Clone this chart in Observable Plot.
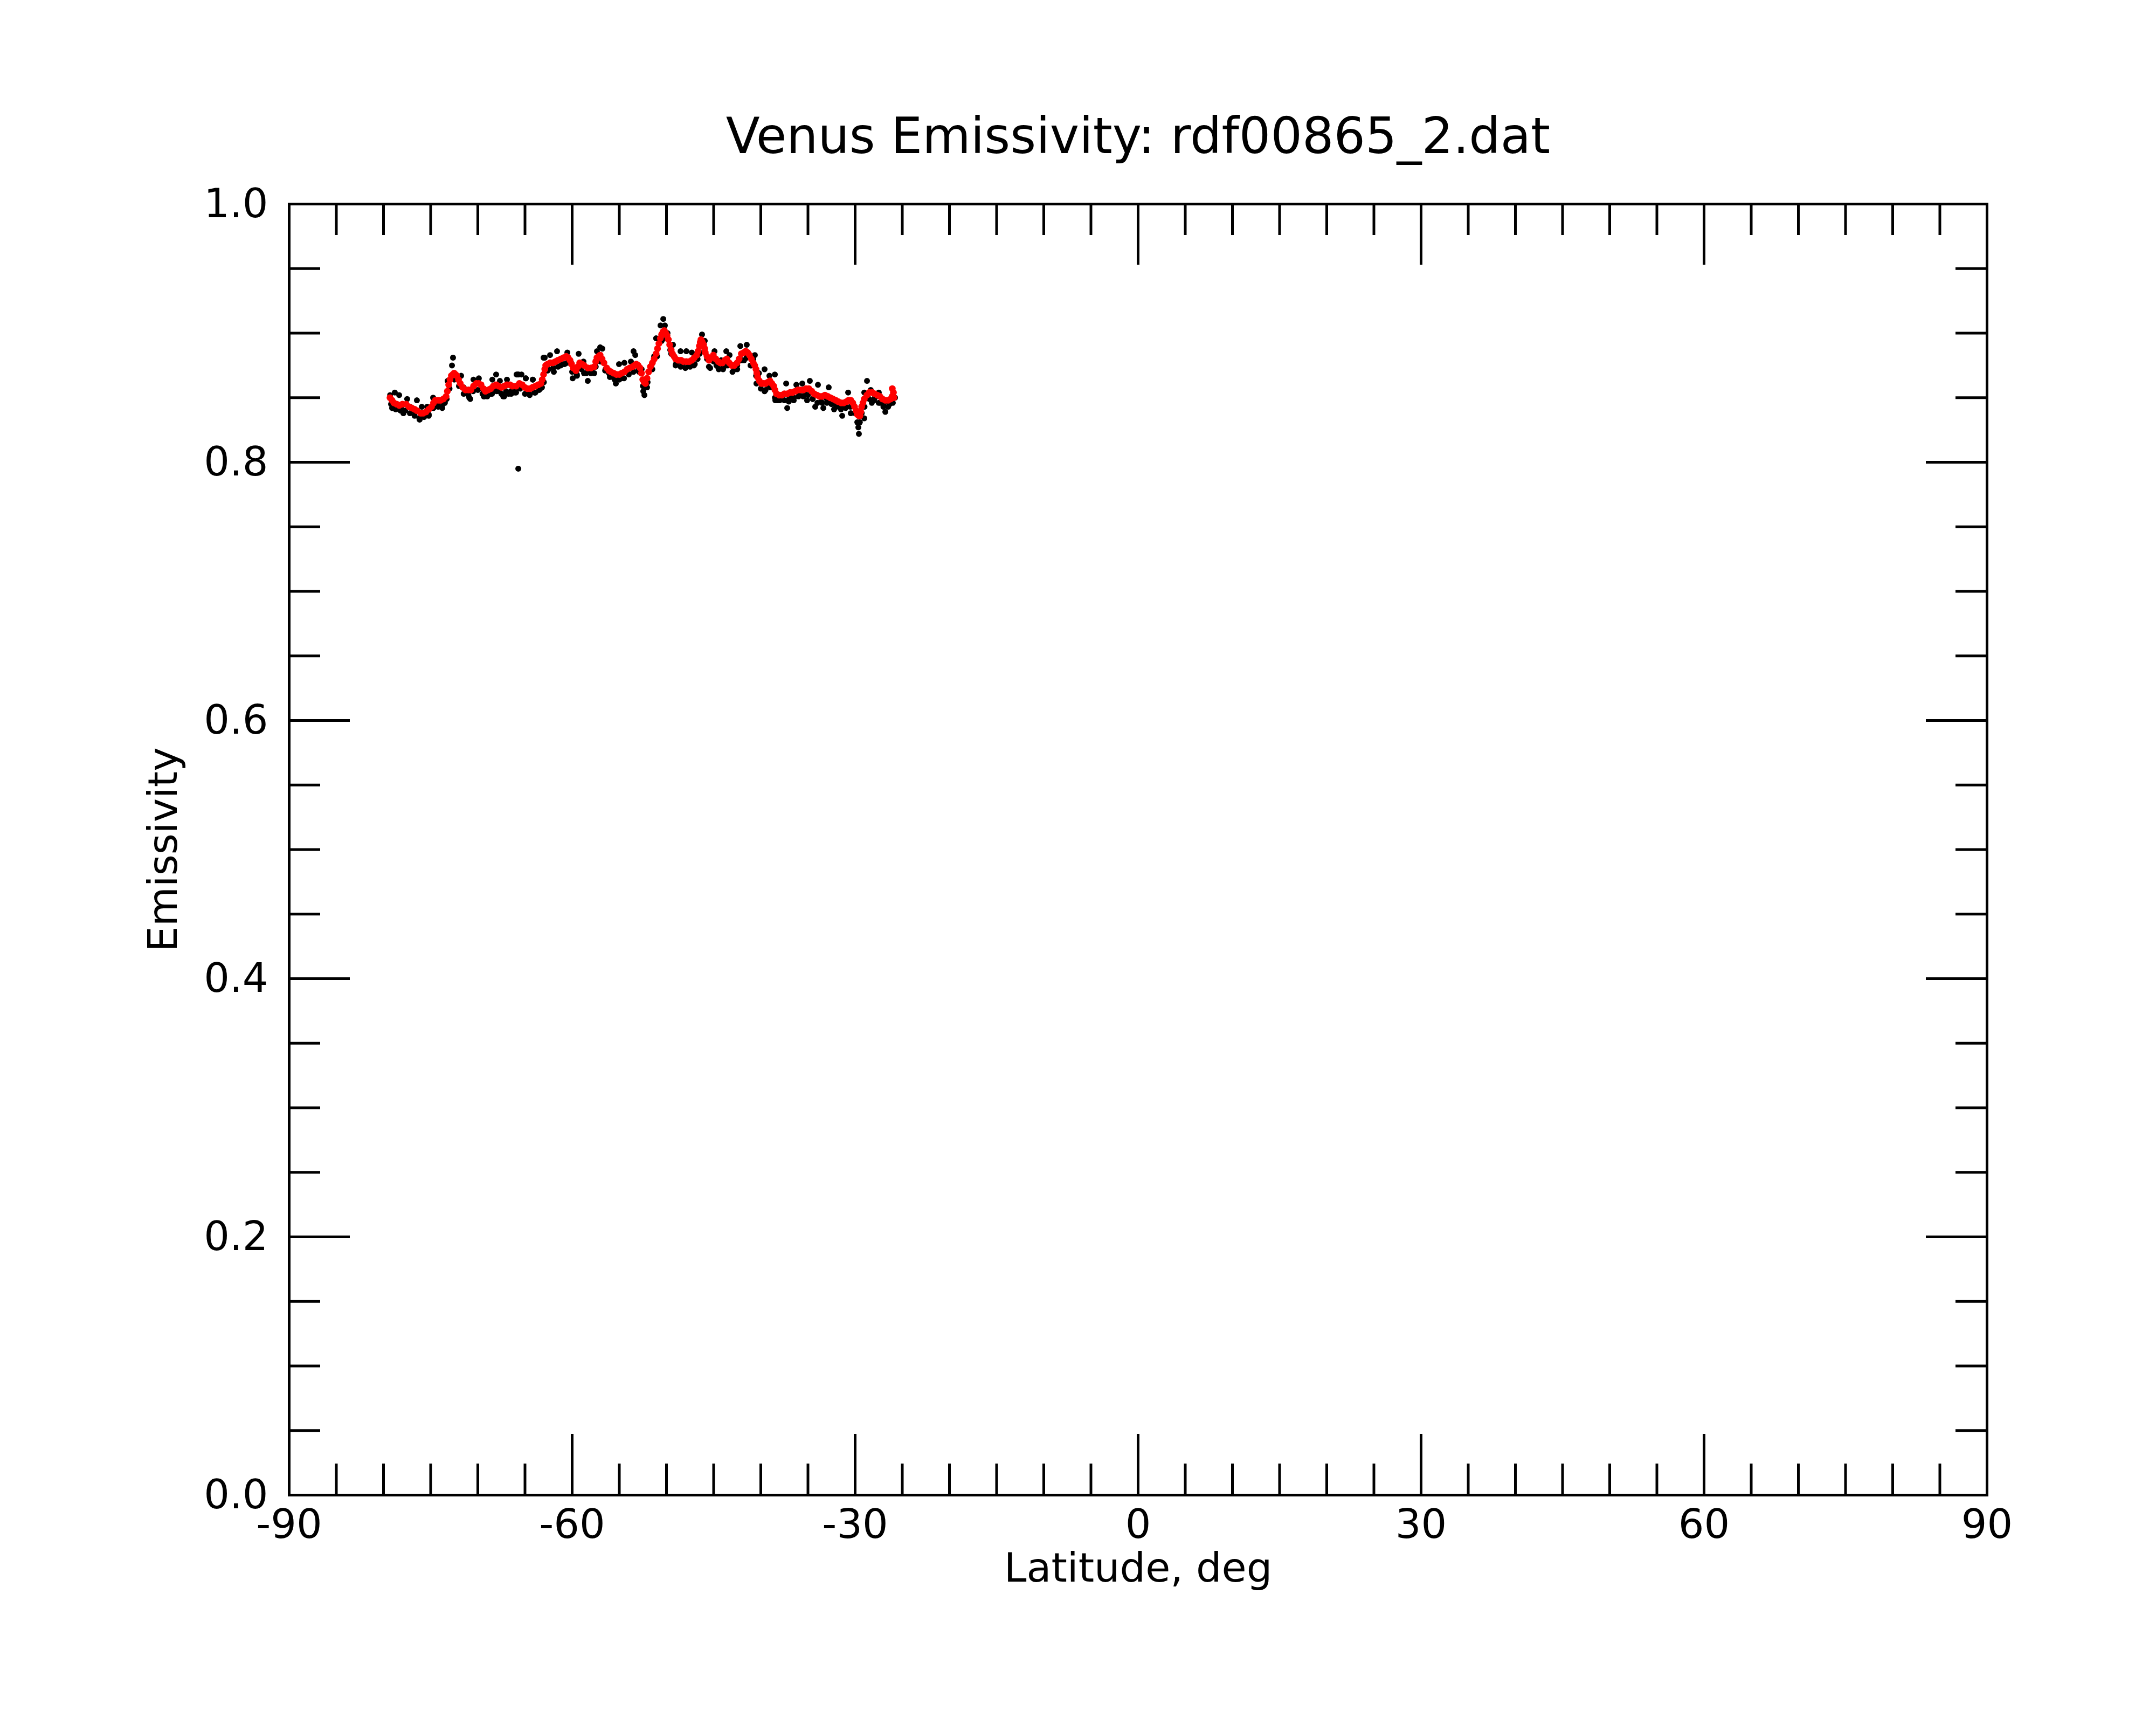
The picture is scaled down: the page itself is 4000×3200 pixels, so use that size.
<!DOCTYPE html>
<html>
<head>
<meta charset="utf-8">
<script src="https://cdn.jsdelivr.net/npm/d3@7"></script>
<script src="https://cdn.jsdelivr.net/npm/@observablehq/plot@0.6"></script>
<style>
  html, body { margin: 0; padding: 0; background: white; }
  svg { display: block; }
</style>
</head>
<body>
<div id="chart"></div>
<script>
const titleText = "Venus Emissivity: rdf00865_2.dat";
const xLabel = "Latitude, deg";
const yLabel = "Emissivity";

const majorX = [-90, -60, -30, 0, 30, 60, 90];
const minorX = [-85, -80, -75, -70, -65, -55, -50, -45, -40, -35, -25, -20, -15, -10, -5,
                5, 10, 15, 20, 25, 35, 40, 45, 50, 55, 65, 70, 75, 80, 85];
const majorY = [0, 0.2, 0.4, 0.6, 0.8, 1.0];
const minorY = [0.05, 0.1, 0.15, 0.25, 0.3, 0.35, 0.45, 0.5, 0.55, 0.65, 0.7, 0.75, 0.85, 0.9, 0.95];

// Raw measurements (black dots), scattered points
const rawLat = [
  -79.3, -79.09, -78.8, -78.6, -78.34, -78.1, -77.89, -77.49, -77.2, -76.8, -76.46, -76.17, -75.94, -75.7, -75.37, -75.2,
  -74.74, -74.3, -73.77, -73.49, -73.2, -72.74, -72.63, -72.4, -71.77, -71.5, -71.09, -70.8, -70.46, -69.89, -69.5, -69.31,
  -68.9, -68.63, -68.3, -68.06, -67.7, -67.31, -66.74, -66.3, -66.06, -65.89, -65.77, -65.71, -65.37, -64.91, -64.63, -64.17,
  -63.89, -63.5, -63.2, -62.91, -62.6, -62.34, -61.94, -61.6, -61.2, -60.8, -60.51, -60.1, -59.94, -59.49, -59.31, -58.8,
  -58.74, -58.34, -58.0, -57.66, -57.37, -57.03, -56.8, -56.46, -56.1, -55.7, -55.37, -55.03, -54.8, -54.46, -54.1, -53.77,
  -53.49, -53.31, -52.9, -52.63, -52.46, -52.34, -52.23, -52.06, -51.6, -51.31, -51.1, -50.63, -50.34, -50.17, -49.89, -49.6,
  -49.31, -49.03, -48.8, -48.51, -48.23, -47.89, -47.66, -47.31, -47.09, -46.7, -46.23, -45.94, -45.7, -45.37, -45.2, -44.91,
  -44.7, -44.46, -44.2, -43.9, -43.66, -43.31, -42.8, -42.5, -42.17, -41.77, -41.49, -41.09, -40.8, -40.63, -40.46, -40.2,
  -39.6, -39.6, -39.3, -39.09, -38.51, -38.46, -38.23, -37.9, -37.31, -37.2, -37.03, -36.8, -36.51, -36.23, -35.9, -35.6,
  -35.3, -35.09, -34.8, -34.5, -34.23, -33.94, -33.6, -33.37, -33.0, -32.8, -32.5, -32.23, -31.9, -31.6, -31.37, -31.0,
  -30.74, -30.46, -30.2, -29.9, -29.77, -29.66, -29.6, -29.3, -29.03, -29.03, -28.74, -28.34, -28.23, -27.9, -27.49, -27.31,
  -27.0, -26.8, -26.5, -26.34, -26.0, -25.77,
  -70.91, -69.37, -68.91, -68.46, -67.66, -67.2, -66.91, -66.46, -65.94, -65.66, -64.91, -64.17, -63.94, -63.37, -63.03
];
const rawEm = [
  0.852, 0.842, 0.854, 0.843, 0.852, 0.842, 0.838, 0.849, 0.843, 0.840, 0.848, 0.833, 0.843, 0.837, 0.843, 0.836,
  0.850, 0.846, 0.842, 0.846, 0.863, 0.875, 0.881, 0.866, 0.867, 0.858, 0.854, 0.849, 0.864, 0.865, 0.857, 0.851,
  0.854, 0.853, 0.857, 0.868, 0.855, 0.851, 0.853, 0.857, 0.854, 0.868, 0.868, 0.795, 0.868, 0.865, 0.854, 0.864,
  0.854, 0.857, 0.858, 0.881, 0.871, 0.883, 0.870, 0.886, 0.875, 0.876, 0.885, 0.877, 0.865, 0.867, 0.884, 0.878,
  0.869, 0.863, 0.871, 0.869, 0.886, 0.889, 0.888, 0.872, 0.869, 0.866, 0.861, 0.876, 0.865, 0.877, 0.869, 0.878,
  0.886, 0.883, 0.870, 0.872, 0.855, 0.852, 0.858, 0.858, 0.875, 0.882, 0.896, 0.906, 0.911, 0.906, 0.900, 0.887,
  0.891, 0.875, 0.878, 0.886, 0.877, 0.886, 0.875, 0.885, 0.875, 0.880, 0.899, 0.894, 0.880, 0.873, 0.879, 0.886,
  0.875, 0.872, 0.879, 0.874, 0.886, 0.883, 0.872, 0.875, 0.890, 0.879, 0.891, 0.875, 0.880, 0.883, 0.861, 0.869,
  0.872, 0.855, 0.860, 0.867, 0.868, 0.848, 0.848, 0.851, 0.861, 0.842, 0.847, 0.851, 0.848, 0.860, 0.852, 0.861,
  0.853, 0.848, 0.863, 0.849, 0.843, 0.860, 0.847, 0.842, 0.849, 0.858, 0.846, 0.841, 0.845, 0.843, 0.836, 0.843,
  0.854, 0.838, 0.845, 0.839, 0.831, 0.827, 0.822, 0.838, 0.834, 0.854, 0.863, 0.856, 0.846, 0.850, 0.854, 0.846,
  0.845, 0.839, 0.847, 0.845, 0.852, 0.850,
  0.850, 0.851, 0.853, 0.864, 0.863, 0.851, 0.864, 0.853, 0.854, 0.868, 0.865, 0.864, 0.854, 0.857, 0.881
];

// Raw measurements (black dots) forming the lower edge of the band
const rawLatLow = [
  -79.2, -78.7, -78.2, -77.7, -77.2, -76.7, -76.2, -75.7, -75.2, -74.7, -74.2, -73.7, -73.3, -73.0, -72.5, -72.0,
  -71.5, -71.0, -70.5, -70.0, -69.5, -69.0, -68.5, -68.0, -67.5, -67.0, -66.5, -66.0, -65.5, -65.0, -64.5, -64.0,
  -63.5, -63.0, -62.5, -62.0, -61.5, -61.0, -60.5, -60.0, -59.5, -59.0, -58.5, -58.0, -57.5, -57.0, -56.5, -56.0,
  -55.5, -55.0, -54.5, -54.0, -53.5, -53.0, -52.5, -52.0, -51.5, -51.0, -50.5, -50.0, -49.5, -49.0, -48.5, -48.0,
  -47.5, -47.0, -46.5, -46.0, -45.5, -45.0, -44.5, -44.0, -43.5, -43.0, -42.5, -42.0, -41.5, -41.0, -40.5, -40.0,
  -39.5, -39.0, -38.5, -38.0, -37.5, -37.0, -36.5, -36.0, -35.5, -35.0, -34.5, -34.0, -33.5, -33.0, -32.5, -32.0,
  -31.5, -31.0, -30.5, -30.0, -29.5, -29.0, -28.5, -28.0, -27.5, -27.0, -26.5, -26.0
];
const rawEmLow = [
  0.845, 0.841, 0.840, 0.840, 0.838, 0.836, 0.834, 0.835, 0.837, 0.842, 0.843, 0.845, 0.849, 0.857, 0.864, 0.859,
  0.853, 0.852, 0.855, 0.856, 0.853, 0.851, 0.853, 0.855, 0.853, 0.855, 0.855, 0.855, 0.857, 0.853, 0.852, 0.854,
  0.856, 0.862, 0.872, 0.873, 0.874, 0.876, 0.877, 0.870, 0.868, 0.872, 0.869, 0.869, 0.874, 0.878, 0.871, 0.866,
  0.864, 0.864, 0.865, 0.868, 0.870, 0.871, 0.859, 0.862, 0.872, 0.882, 0.894, 0.896, 0.884, 0.876, 0.874, 0.873,
  0.874, 0.876, 0.884, 0.886, 0.874, 0.878, 0.873, 0.872, 0.875, 0.870, 0.872, 0.879, 0.881, 0.875, 0.867, 0.857,
  0.856, 0.858, 0.850, 0.848, 0.848, 0.849, 0.850, 0.851, 0.851, 0.852, 0.849, 0.846, 0.846, 0.846, 0.845, 0.843,
  0.841, 0.842, 0.843, 0.838, 0.831, 0.843, 0.849, 0.848, 0.846, 0.843, 0.843, 0.846
];

// Smoothed values (red dots)
const smLat = [
  -79.31, -79.1, -78.9, -78.6, -78.34, -78.0, -77.6, -77.3, -77.0, -76.7, -76.46, -76.06, -75.8, -75.49, -75.2, -74.91,
  -74.7, -74.5, -74.2, -73.94, -73.65, -73.37, -73.23, -73.09, -72.95, -72.8, -72.65, -72.51, -72.37, -72.23, -72.05, -71.86,
  -71.6, -71.31, -71.0, -70.74, -70.45, -70.17, -69.9, -69.66, -69.4, -69.2, -68.9, -68.63, -68.35, -68.06, -67.8, -67.49,
  -67.2, -66.91, -66.6, -66.34, -65.94, -65.6, -65.3, -65.03, -64.75, -64.46, -64.2, -63.89, -63.6, -63.31, -63.17, -63.03,
  -62.9, -62.8, -62.6, -62.34, -62.05, -61.77, -61.5, -61.2, -60.9, -60.63, -60.43, -60.23, -60.06, -59.89, -59.6, -59.4,
  -59.2, -58.95, -58.74, -58.34, -58.0, -57.66, -57.5, -57.37, -57.2, -57.03, -56.83, -56.63, -56.34, -56.1, -55.89, -55.6,
  -55.31, -55.0, -54.74, -54.45, -54.17, -53.9, -53.6, -53.4, -53.2, -53.0, -52.8, -52.65, -52.51, -52.37, -52.23, -52.06,
  -51.89, -51.7, -51.49, -51.3, -51.1, -50.95, -50.8, -50.65, -50.51, -50.37, -50.23, -50.08, -49.94, -49.8, -49.66, -49.5,
  -49.37, -49.2, -49.03, -48.75, -48.46, -48.2, -47.89, -47.6, -47.31, -47.05, -46.8, -46.65, -46.51, -46.42, -46.34, -46.2,
  -46.06, -45.95, -45.89, -45.7, -45.49, -45.25, -45.03, -44.77, -44.51, -44.3, -44.06, -43.8, -43.6, -43.35, -43.09, -42.8,
  -42.51, -42.3, -42.06, -41.8, -41.6, -41.4, -41.2, -41.0, -40.8, -40.65, -40.51, -40.42, -40.34, -40.15, -39.94, -39.7,
  -39.49, -39.25, -39.03, -38.83, -38.63, -38.5, -38.34, -38.05, -37.77, -37.5, -37.2, -36.9, -36.63, -36.35, -36.06, -35.8,
  -35.49, -35.2, -34.91, -34.6, -34.34, -34.05, -33.77, -33.5, -33.2, -32.9, -32.63, -32.35, -32.06, -31.8, -31.49, -31.2,
  -30.91, -30.7, -30.46, -30.25, -30.06, -29.9, -29.77, -29.6, -29.49, -29.4, -29.31, -29.17, -29.03, -28.75, -28.51, -28.2,
  -27.94, -27.65, -27.37, -27.1, -26.8, -26.5, -26.23, -26.08, -25.94, -25.89, -26.06
];
const smEm = [
  0.850, 0.848, 0.846, 0.845, 0.844, 0.845, 0.845, 0.843, 0.842, 0.841, 0.840, 0.838, 0.838, 0.839, 0.841, 0.843,
  0.846, 0.848, 0.848, 0.848, 0.849, 0.851, 0.855, 0.860, 0.864, 0.867, 0.868, 0.869, 0.868, 0.867, 0.864, 0.861,
  0.858, 0.856, 0.856, 0.856, 0.859, 0.861, 0.861, 0.860, 0.857, 0.855, 0.856, 0.857, 0.859, 0.860, 0.859, 0.858,
  0.859, 0.860, 0.860, 0.859, 0.859, 0.861, 0.860, 0.858, 0.857, 0.857, 0.858, 0.859, 0.860, 0.861, 0.864, 0.868,
  0.872, 0.875, 0.876, 0.877, 0.877, 0.878, 0.879, 0.880, 0.881, 0.882, 0.881, 0.879, 0.876, 0.873, 0.871, 0.874,
  0.877, 0.876, 0.875, 0.873, 0.873, 0.874, 0.878, 0.881, 0.882, 0.883, 0.880, 0.877, 0.873, 0.871, 0.870, 0.869,
  0.868, 0.868, 0.869, 0.870, 0.872, 0.873, 0.874, 0.875, 0.876, 0.875, 0.873, 0.869, 0.864, 0.862, 0.861, 0.865,
  0.870, 0.874, 0.877, 0.880, 0.884, 0.888, 0.892, 0.896, 0.899, 0.901, 0.902, 0.900, 0.898, 0.895, 0.891, 0.887,
  0.884, 0.882, 0.880, 0.879, 0.879, 0.878, 0.878, 0.878, 0.879, 0.881, 0.883, 0.886, 0.890, 0.893, 0.895, 0.893,
  0.891, 0.888, 0.885, 0.882, 0.879, 0.881, 0.883, 0.880, 0.878, 0.877, 0.877, 0.879, 0.880, 0.877, 0.875, 0.875,
  0.877, 0.880, 0.884, 0.885, 0.886, 0.885, 0.883, 0.880, 0.877, 0.875, 0.872, 0.869, 0.866, 0.863, 0.861, 0.861,
  0.861, 0.862, 0.863, 0.861, 0.859, 0.856, 0.853, 0.852, 0.852, 0.853, 0.853, 0.854, 0.854, 0.855, 0.856, 0.856,
  0.856, 0.857, 0.857, 0.855, 0.853, 0.852, 0.851, 0.851, 0.852, 0.851, 0.850, 0.849, 0.848, 0.847, 0.846, 0.846,
  0.847, 0.848, 0.848, 0.846, 0.843, 0.840, 0.837, 0.836, 0.836, 0.839, 0.843, 0.846, 0.849, 0.852, 0.854, 0.854,
  0.853, 0.852, 0.851, 0.849, 0.848, 0.848, 0.849, 0.851, 0.854, 0.850, 0.857
];

const raw = rawLat.map((lat, i) => ({lat, em: rawEm[i]}))
  .concat(rawLatLow.map((lat, i) => ({lat, em: rawEmLow[i]})));
const smooth = smLat.map((lat, i) => ({lat, em: smEm[i]}));

const W = 4000, H = 3200;
const mL = 536, mR = 314, mT = 378, mB = 427;
const plotW = W - mL - mR, plotH = H - mT - mB;
const majorLen = 113, minorLen = 58, lw = 5;
const font = "DejaVu Sans";

const chart = Plot.plot({
  width: W,
  height: H,
  marginLeft: mL,
  marginRight: mR,
  marginTop: mT,
  marginBottom: mB,
  style: {fontFamily: font, background: "white", color: "black"},
  x: {domain: [-90, 90], axis: null},
  y: {domain: [0, 1], axis: null},
  marks: [
    // data
    Plot.dot(raw, {x: "lat", y: "em", r: 5.5, fill: "black", stroke: null}),
    Plot.dot(smooth, {x: "lat", y: "em", r: 6.3, fill: "#ff0000", stroke: null}),
    // ticks bottom & top
    Plot.tickX(majorX, {x: d => d, insetTop: plotH - majorLen, stroke: "black", strokeWidth: lw}),
    Plot.tickX(minorX, {x: d => d, insetTop: plotH - minorLen, stroke: "black", strokeWidth: lw}),
    Plot.tickX(majorX, {x: d => d, insetBottom: plotH - majorLen, stroke: "black", strokeWidth: lw}),
    Plot.tickX(minorX, {x: d => d, insetBottom: plotH - minorLen, stroke: "black", strokeWidth: lw}),
    // ticks left & right
    Plot.tickY(majorY, {y: d => d, insetRight: plotW - majorLen, stroke: "black", strokeWidth: lw}),
    Plot.tickY(minorY, {y: d => d, insetRight: plotW - minorLen, stroke: "black", strokeWidth: lw}),
    Plot.tickY(majorY, {y: d => d, insetLeft: plotW - majorLen, stroke: "black", strokeWidth: lw}),
    Plot.tickY(minorY, {y: d => d, insetLeft: plotW - minorLen, stroke: "black", strokeWidth: lw}),
    Plot.frame({stroke: "black", strokeWidth: lw}),
    // tick labels
    Plot.axisX(majorX, {anchor: "bottom", tickSize: 0, tickPadding: 26, fontSize: 75, tickFormat: d => String(d), label: null}),
    Plot.axisY(majorY, {anchor: "left", tickSize: 0, tickPadding: 39, fontSize: 75, tickFormat: d => d.toFixed(1), label: null}),
    // labels
    Plot.text([xLabel], {frameAnchor: "bottom", textAnchor: "middle", lineAnchor: "bottom", dy: 160, fontSize: 75, fill: "black"}),
    Plot.text([yLabel], {frameAnchor: "left", textAnchor: "middle", lineAnchor: "bottom", rotate: -90, dx: -209, fontSize: 75, fill: "black"}),
    Plot.text([titleText], {frameAnchor: "top", textAnchor: "middle", lineAnchor: "bottom", dy: -95, fontSize: 92, fill: "black"})
  ]
});

document.getElementById("chart").appendChild(chart);
</script>
</body>
</html>
